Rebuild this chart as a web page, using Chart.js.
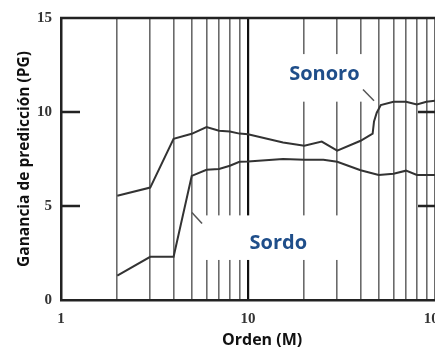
<!DOCTYPE html>
<html>
<head>
<meta charset="utf-8">
<script src="https://cdn.jsdelivr.net/npm/chart.js@4.4.1/dist/chart.umd.min.js"></script>
<style>
  html, body { margin: 0; padding: 0; background: #fff; overflow: hidden; }
  #wrap { width: 435px; height: 349px; overflow: hidden; }
</style>
</head>
<body>
<div id="wrap"><canvas id="chart" width="460" height="349"></canvas></div>
<script>
// axis ticks
const ordenTicks = [1, 2, 3, 4, 5, 6, 7, 8, 9, 10, 20, 30, 40, 50, 60, 70, 80, 90, 100];
const ordenLabels = [1, 10, 100];
const gananciaTicks = [0, 5, 10, 15];

// curves
const sonoroOrden = [2, 3, 4, 5, 6, 7, 8, 9, 10, 15.4, 20, 24.8, 30, 40, 46.4, 47.2, 48.8, 51.3, 60, 70, 80, 90, 100];
const sonoroPG = [5.55, 5.98, 8.57, 8.84, 9.2, 9.0, 8.96, 8.85, 8.82, 8.38, 8.2, 8.43, 7.94, 8.47, 8.85, 9.5, 9.96, 10.37, 10.54, 10.54, 10.4, 10.54, 10.6];
const sordoOrden = [2, 3, 4, 5, 6, 7, 8, 9, 10, 15.4, 20, 25.3, 30, 40, 50, 60, 70, 80, 90, 100];
const sordoPG = [1.3, 2.3, 2.3, 6.6, 6.93, 6.97, 7.14, 7.35, 7.37, 7.5, 7.46, 7.46, 7.35, 6.9, 6.65, 6.72, 6.88, 6.65, 6.65, 6.65];

// text labels placed on the plot (in data units)
const curveLabels = [
  { text: 'Sonoro', x: 16.6, y: 11.69, box: [14.8, 44.9, 10.55, 13.08], leader: [41.2, 11.2, 47.2, 10.6] },
  { text: 'Sordo', x: 10.2, y: 2.71, box: [5.54, 35.1, 2.13, 4.5], leader: [5.01, 4.66, 5.68, 4.07] }
];
const ordenTitle = 'Orden (M)';
const ordenTitleAt = 11.9;

const toPoints = (xs, ys) => xs.map((v, i) => ({ x: v, y: ys[i] }));

const labelsPlugin = {
  id: 'curveLabels',
  beforeDatasetsDraw(chart) {
    const { ctx, scales: { x, y } } = chart;
    ctx.save();
    // white patches that break the grid lines behind the labels
    ctx.fillStyle = '#fff';
    curveLabels.forEach(a => {
      const x0 = x.getPixelForValue(a.box[0]), x1 = x.getPixelForValue(a.box[1]);
      const y0 = y.getPixelForValue(a.box[2]), y1 = y.getPixelForValue(a.box[3]);
      ctx.fillRect(x0, y1, x1 - x0, y0 - y1);
    });
    // leader lines
    ctx.strokeStyle = '#555';
    ctx.lineWidth = 1.5;
    curveLabels.forEach(a => {
      ctx.beginPath();
      ctx.moveTo(x.getPixelForValue(a.leader[0]), y.getPixelForValue(a.leader[1]));
      ctx.lineTo(x.getPixelForValue(a.leader[2]), y.getPixelForValue(a.leader[3]));
      ctx.stroke();
    });
    // texts
    ctx.fillStyle = '#1f4e8a';
    ctx.font = 'bold 20px "Open Sans"';
    ctx.textAlign = 'left';
    ctx.textBaseline = 'alphabetic';
    curveLabels.forEach(a => {
      ctx.fillText(a.text, x.getPixelForValue(a.x), y.getPixelForValue(a.y));
    });
    ctx.restore();
  },
  afterDatasetsDraw(chart) {
    const { ctx, scales: { x, y } } = chart;
    const left = x.getPixelForValue(1), right = x.getPixelForValue(100);
    ctx.save();
    ctx.strokeStyle = '#222';
    ctx.lineWidth = 2.5;
    // top frame line
    ctx.beginPath();
    const top = y.getPixelForValue(15);
    ctx.moveTo(left - 1, top);
    ctx.lineTo(right, top);
    ctx.stroke();
    // inward tick marks at 5 and 10 on both sides
    [5, 10].forEach(v => {
      const py = y.getPixelForValue(v);
      ctx.beginPath();
      ctx.moveTo(left, py);
      ctx.lineTo(left + 19, py);
      ctx.moveTo(right - 17, py);
      ctx.lineTo(right, py);
      ctx.stroke();
    });
    // x axis title (sits a little right of centre in the original)
    ctx.fillStyle = '#111';
    ctx.font = 'bold 16px "Open Sans"';
    ctx.textAlign = 'center';
    ctx.textBaseline = 'middle';
    ctx.fillText(ordenTitle, x.getPixelForValue(ordenTitleAt), chart.height - 9);
    ctx.restore();
  }
};

const tickFont = { family: '"Liberation Serif", serif', size: 15, weight: 'bold' };

new Chart(document.getElementById('chart'), {
  type: 'scatter',
  data: {
    datasets: [
      {
        label: 'Sonoro',
        data: toPoints(sonoroOrden, sonoroPG),
        showLine: true,
        borderColor: '#333',
        borderWidth: 2,
        pointRadius: 0,
        tension: 0
      },
      {
        label: 'Sordo',
        data: toPoints(sordoOrden, sordoPG),
        showLine: true,
        borderColor: '#333',
        borderWidth: 2,
        pointRadius: 0,
        tension: 0
      }
    ]
  },
  options: {
    responsive: false,
    animation: false,
    layout: { padding: { top: 15, right: 25, left: 0, bottom: 0 } },
    plugins: {
      legend: { display: false },
      tooltip: { enabled: false }
    },
    scales: {
      x: {
        type: 'logarithmic',
        min: 1,
        max: 100,
        afterBuildTicks: scale => { scale.ticks = ordenTicks.map(v => ({ value: v })); },
        afterFit: scale => { scale.height = 49; },
        grid: {
          drawTicks: false,
          color: ctx => (ctx.tick && ctx.tick.value === 10 ? '#111' : '#6a6a6a'),
          lineWidth: ctx => (ctx.tick && ctx.tick.value === 10 ? 2.2 : 1.6)
        },
        border: { display: true, color: '#222', width: 2.5 },
        ticks: {
          autoSkip: false,
          maxRotation: 0,
          padding: 10,
          color: '#333',
          font: tickFont,
          callback: v => (ordenLabels.includes(v) ? String(v) : '')
        },
        title: { display: false }
      },
      y: {
        min: 0,
        max: 15,
        afterBuildTicks: scale => { scale.ticks = gananciaTicks.map(v => ({ value: v })); },
        afterFit: scale => { scale.width = 61; },
        grid: { display: false, drawTicks: false },
        border: { display: true, color: '#222', width: 2.5 },
        ticks: {
          padding: 9,
          color: '#333',
          font: tickFont
        },
        title: {
          display: true,
          text: 'Ganancia de predicción (PG)',
          color: '#111',
          font: { family: '"Open Sans"', size: 15.5, weight: 'bold' },
          padding: { top: 15, bottom: 0 }
        }
      }
    }
  },
  plugins: [labelsPlugin]
});
</script>
</body>
</html>
